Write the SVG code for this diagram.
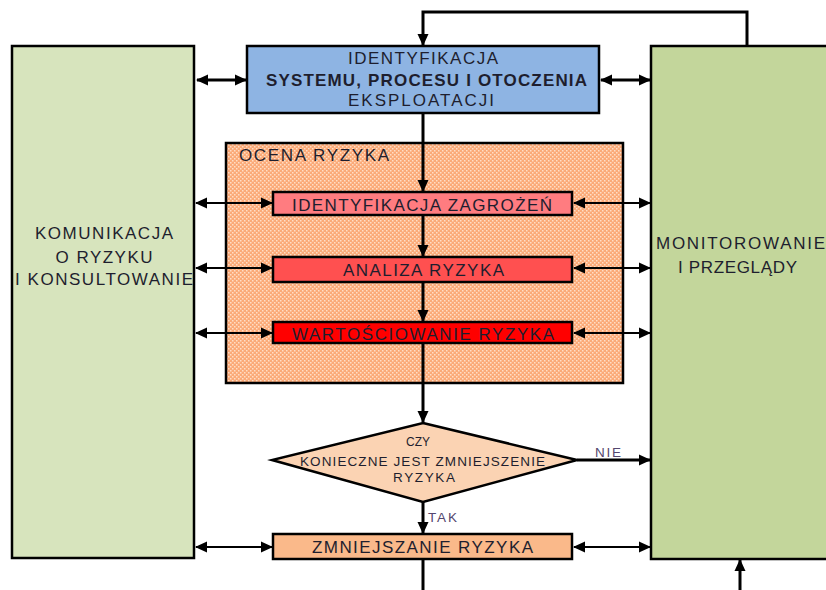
<svg xmlns="http://www.w3.org/2000/svg" width="826" height="590" viewBox="0 0 826 590">
<defs>
<marker id="ah" markerUnits="userSpaceOnUse" markerWidth="12" markerHeight="12" viewBox="0 0 12 12" refX="11" refY="6" orient="auto-start-reverse">
<path d="M0,0.5 L12,6 L0,11.5 z" fill="#000"/>
</marker>
<pattern id="dots" width="4" height="4" patternUnits="userSpaceOnUse">
<rect width="4" height="4" fill="#FBAA78"/>
<rect x="0" y="0" width="1.5" height="1.5" fill="#FFDEC6"/>
<rect x="2" y="2" width="1.5" height="1.5" fill="#FFDEC6"/>
</pattern>
<style>
.box{stroke:#000;stroke-width:2.5}
.t{font-family:"Liberation Sans",Arial,sans-serif;fill:#1e1e2e;font-size:17px}
.s{font-family:"Liberation Sans",Arial,sans-serif;fill:#1e1e2e;font-size:13.5px}
.l{font-family:"Liberation Sans",Arial,sans-serif;fill:#54466e;font-size:13.5px}
.c{fill:none;stroke:#000;stroke-width:2.2}
.c2{fill:none;stroke:#000;stroke-width:3}
</style>
</defs>

<g id="komunikacja">
<rect class="box" x="12" y="46" width="182" height="512" fill="#D7E4BD"/>
<text class="t" x="104" y="239" text-anchor="middle" textLength="138" lengthAdjust="spacing">KOMUNIKACJA</text>
<text class="t" x="104" y="263" text-anchor="middle" textLength="97" lengthAdjust="spacing">O RYZYKU</text>
<text class="t" x="104" y="285" text-anchor="middle" textLength="178" lengthAdjust="spacing">I KONSULTOWANIE</text>
</g>

<g id="monitorowanie">
<rect class="box" x="651" y="46" width="180" height="513" fill="#C3D69B"/>
<text class="t" x="656" y="249" textLength="169" lengthAdjust="spacing">MONITOROWANIE</text>
<text class="t" x="678" y="273" textLength="119" lengthAdjust="spacing">I PRZEGLĄDY</text>
</g>

<g id="identyfikacja-systemu">
<rect class="box" x="247" y="46" width="352" height="67" fill="#8EB4E3"/>
<text class="t" x="348" y="64" textLength="150" lengthAdjust="spacing">IDENTYFIKACJA</text>
<text class="t" x="266" y="86" font-weight="bold" textLength="321" lengthAdjust="spacing">SYSTEMU, PROCESU I OTOCZENIA</text>
<text class="t" x="348" y="106" textLength="146" lengthAdjust="spacing">EKSPLOATACJI</text>
</g>

<g id="ocena-ryzyka">
<rect class="box" x="226" y="143" width="397" height="240" fill="url(#dots)"/>
<text class="t" x="239" y="161" textLength="150" lengthAdjust="spacing">OCENA RYZYKA</text>
</g>

<g id="identyfikacja-zagrozen">
<rect class="box" x="273" y="192" width="299" height="23" fill="#FF7C80"/>
<text class="t" x="292" y="211" textLength="260" lengthAdjust="spacing">IDENTYFIKACJA ZAGROŻEŃ</text>
</g>

<g id="analiza-ryzyka">
<rect class="box" x="273" y="257" width="299" height="25" fill="#FF5050"/>
<text class="t" x="343" y="276" textLength="161" lengthAdjust="spacing">ANALIZA RYZYKA</text>
</g>

<g id="wartosciowanie-ryzyka">
<rect class="box" x="273" y="322" width="299" height="21" fill="#FF0000"/>
<text class="t" x="292" y="340" textLength="262" lengthAdjust="spacing">WARTOŚCIOWANIE RYZYKA</text>
</g>

<g id="decyzja">
<polygon points="423,423 577,460 423,502 272,460" fill="#FBD3B3" stroke="#000" stroke-width="2.5"/>
<text class="s" x="406" y="446" textLength="24" lengthAdjust="spacingAndGlyphs">CZY</text>
<text class="s" x="300" y="466" textLength="245" lengthAdjust="spacing">KONIECZNE JEST ZMNIEJSZENIE</text>
<text class="s" x="393" y="482" textLength="62" lengthAdjust="spacing">RYZYKA</text>
</g>

<g id="zmniejszanie-ryzyka">
<rect class="box" x="273" y="534" width="299" height="25" fill="#FAB98A"/>
<text class="t" x="312" y="553" textLength="221" lengthAdjust="spacing">ZMNIEJSZANIE RYZYKA</text>
</g>

<g id="connectors">
<polyline class="c2" points="747,45 747,12 423,12 423,45" marker-end="url(#ah)"/>
<line class="c2" x1="197" y1="80" x2="246" y2="80" marker-start="url(#ah)" marker-end="url(#ah)"/>
<line class="c2" x1="601" y1="80" x2="650" y2="80" marker-start="url(#ah)" marker-end="url(#ah)"/>
<line class="c2" x1="423" y1="114" x2="423" y2="191" marker-end="url(#ah)"/>
<line class="c2" x1="423" y1="216" x2="423" y2="256" marker-end="url(#ah)"/>
<line class="c2" x1="423" y1="283" x2="423" y2="321" marker-end="url(#ah)"/>
<line class="c2" x1="423" y1="344" x2="423" y2="422" marker-end="url(#ah)"/>
<line class="c2" x1="423" y1="502" x2="423" y2="533" marker-end="url(#ah)"/>
<line class="c2" x1="423" y1="560" x2="423" y2="590"/>
<line class="c2" x1="740" y1="590" x2="740" y2="560" marker-end="url(#ah)"/>
<line class="c2" x1="577" y1="460" x2="650" y2="460" marker-end="url(#ah)"/>
<line class="c" x1="196" y1="203" x2="272" y2="203" marker-start="url(#ah)" marker-end="url(#ah)"/>
<line class="c" x1="196" y1="268" x2="272" y2="268" marker-start="url(#ah)" marker-end="url(#ah)"/>
<line class="c" x1="196" y1="333" x2="272" y2="333" marker-start="url(#ah)" marker-end="url(#ah)"/>
<line class="c" x1="196" y1="547" x2="272" y2="547" marker-start="url(#ah)" marker-end="url(#ah)"/>
<line class="c" x1="574" y1="203" x2="650" y2="203" marker-start="url(#ah)" marker-end="url(#ah)"/>
<line class="c" x1="574" y1="268" x2="650" y2="268" marker-start="url(#ah)" marker-end="url(#ah)"/>
<line class="c" x1="574" y1="333" x2="650" y2="333" marker-start="url(#ah)" marker-end="url(#ah)"/>
<line class="c" x1="574" y1="547" x2="650" y2="547" marker-start="url(#ah)" marker-end="url(#ah)"/>
<text class="l" x="595" y="457" textLength="26" lengthAdjust="spacing">NIE</text>
<text class="l" x="428" y="522" textLength="29" lengthAdjust="spacing">TAK</text>
</g>
</svg>
